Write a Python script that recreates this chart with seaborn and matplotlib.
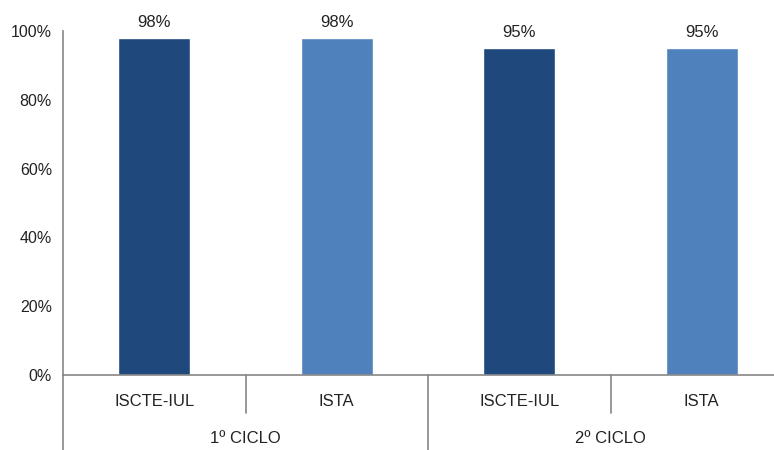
import matplotlib
matplotlib.use("Agg")
import matplotlib.pyplot as plt
import seaborn as sns
import pandas as pd
from matplotlib.ticker import PercentFormatter

ciclos = ["1º CICLO", "1º CICLO", "2º CICLO", "2º CICLO"]
escolas = ["ISCTE-IUL", "ISTA", "ISCTE-IUL", "ISTA"]
valores = [0.98, 0.98, 0.95, 0.95]
rotulos = ["98%", "98%", "95%", "95%"]
grupos = ["1º CICLO", "2º CICLO"]

df = pd.DataFrame({"ciclo": ciclos, "escola": escolas, "valor": valores})
df["key"] = df["ciclo"] + "|" + df["escola"]

sns.set_style("white")
plt.rcParams["font.family"] = ["Liberation Sans", "DejaVu Sans"]

fig = plt.figure(figsize=(7.74, 4.5), dpi=100)
ax = fig.add_axes([63/774, 75/450, 730/774, 344/450])

palette = {"ISCTE-IUL": "#1F487C", "ISTA": "#4F81BD"}
sns.barplot(data=df, x="key", y="valor", hue="escola", dodge=False,
            order=list(df["key"]), palette=palette, width=0.395, ax=ax,
            legend=False, saturation=1)

ax.set_ylim(0, 1)
ax.set_xlim(-0.5, 3.5)
ax.yaxis.set_major_formatter(PercentFormatter(1.0, decimals=0))
ax.set_yticks([0, 0.2, 0.4, 0.6, 0.8, 1.0])
ax.tick_params(axis="y", length=5, width=1, color="#868686", labelsize=11.5,
               labelcolor="#222222", pad=3)
ax.set_xticks([])
ax.set_xlabel("")
ax.set_ylabel("")
for s in ["top", "right"]:
    ax.spines[s].set_visible(False)
for s in ["left", "bottom"]:
    ax.spines[s].set_color("#868686")
    ax.spines[s].set_linewidth(1.2)

for i, (v, r) in enumerate(zip(valores, rotulos)):
    ax.annotate(r, (i, v), xytext=(0, 6), textcoords="offset points",
                ha="center", va="bottom", fontsize=12, color="#222222")

trans = ax.get_xaxis_transform()
for i, e in enumerate(escolas):
    ax.text(i, -0.077, e, transform=trans, ha="center", va="center",
            fontsize=12, color="#222222")
for j, g in enumerate(grupos):
    ax.text(2*j + 0.5, -0.185, g, transform=trans, ha="center", va="center",
            fontsize=12, color="#222222")

lc = "#868686"
for x in [0.5, 2.5]:
    ax.plot([x, x], [0, -0.11], transform=trans, color=lc, lw=1.2, clip_on=False)
for x in [-0.5, 1.5, 3.5]:
    ax.plot([x, x], [0, -0.22], transform=trans, color=lc, lw=1.2, clip_on=False)

fig.savefig("out.png", dpi=100)
